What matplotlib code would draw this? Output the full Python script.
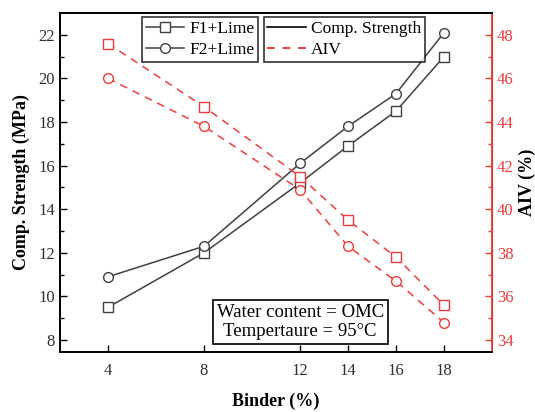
import numpy as np
import matplotlib.pyplot as plt
from matplotlib.lines import Line2D

plt.rcParams['font.family'] = ['Liberation Serif', 'DejaVu Serif']

binder = [4, 8, 12, 14, 16, 18]
cs_f1 = [9.5, 12.0, 15.2, 16.9, 18.5, 21.0]
cs_f2 = [10.9, 12.3, 16.1, 17.8, 19.3, 22.1]
aiv_f1 = [47.6, 44.7, 41.5, 39.5, 37.8, 35.6]
aiv_f2 = [46.0, 43.8, 40.9, 38.3, 36.7, 34.8]

grey = '#404040'
red = '#f03c3c'

fig = plt.figure(figsize=(5.35, 4.12), dpi=100)
ax = fig.add_axes([60 / 535, 1 - 352 / 412, 432 / 535, 339 / 412])
ax2 = ax.twinx()

mk = dict(markersize=7, markerfacecolor='white', lw=1.1)
ax.plot(binder, cs_f1, '-s', color=grey, markeredgecolor=grey, **mk)
ax.plot(binder, cs_f2, '-o', color=grey, markeredgecolor=grey, **mk)
ax2.plot(binder, aiv_f1, '--s', color=red, markeredgecolor=red, dashes=(5, 4), **mk)
ax2.plot(binder, aiv_f2, '--o', color=red, markeredgecolor=red, dashes=(5, 4), **mk)

ax.set_xlim(2, 20)
ax.set_ylim(7.45, 23.0)
ax2.set_ylim(33.45, 49.0)
ax.set_xticks(binder)
ax.set_yticks(range(8, 23, 2))
ax.set_yticks(range(9, 23, 2), minor=True)
ax2.set_yticks(range(34, 49, 2))
ax2.set_yticks(range(35, 49, 2), minor=True)

ax.tick_params(axis='both', which='both', direction='in', labelsize=12, length=5, width=1, colors='black')
ax.tick_params(axis='y', which='minor', length=3)
ax.tick_params(axis='y', labelcolor='#303030')
ax.tick_params(axis='x', labelcolor='#303030', pad=8)
ax2.tick_params(axis='y', which='both', direction='in', labelsize=12, length=5, width=1, colors=red)
ax2.tick_params(axis='y', which='minor', length=3)
ax2.spines['right'].set_color(red)
ax2.spines['right'].set_linewidth(1.3)
for s in ['left', 'bottom', 'top']:
    ax.spines[s].set_linewidth(1.3)
    ax2.spines[s].set_linewidth(1.3)

ax.set_xlabel('Binder (%)', fontsize=13, fontweight='bold', labelpad=10)
ax.set_ylabel('Comp. Strength (MPa)', fontsize=13, fontweight='bold', labelpad=6)
ax2.set_ylabel('AIV (%)', fontsize=13, fontweight='bold', labelpad=4, rotation=90)

h1 = [Line2D([], [], color=grey, marker='s', markerfacecolor='white', markersize=7, lw=1.1),
      Line2D([], [], color=grey, marker='o', markerfacecolor='white', markersize=7, lw=1.1)]
leg1 = ax.legend(h1, ['F1+Lime', 'F2+Lime'], loc='upper left', bbox_to_anchor=(0.19, 0.988),
                 fontsize=12.5, frameon=True, fancybox=False, edgecolor='black',
                 handlelength=2.2, borderpad=0.2, labelspacing=0.3, handletextpad=0.3, borderaxespad=0)
leg1.get_frame().set_linewidth(1.2)
ax.add_artist(leg1)
h2 = [Line2D([], [], color='black', lw=1.2),
      Line2D([], [], color=red, lw=1.4, ls='--', dashes=(4, 4))]
leg2 = ax.legend(h2, ['Comp. Strength', 'AIV'], loc='upper left', bbox_to_anchor=(0.472, 0.988),
                 fontsize=12.5, frameon=True, fancybox=False, edgecolor='black',
                 handlelength=2.2, borderpad=0.2, labelspacing=0.3, handletextpad=0.3, borderaxespad=0)
leg2.get_frame().set_linewidth(1.2)

ax.text(0.556, 0.088, 'Water content = OMC\nTempertaure = 95°C', transform=ax.transAxes,
        ha='center', va='center', fontsize=13.5, linespacing=1.2,
        bbox=dict(boxstyle='square,pad=0.2', facecolor='white', edgecolor='black', linewidth=1.2))

fig.savefig('out.png', dpi=100)
